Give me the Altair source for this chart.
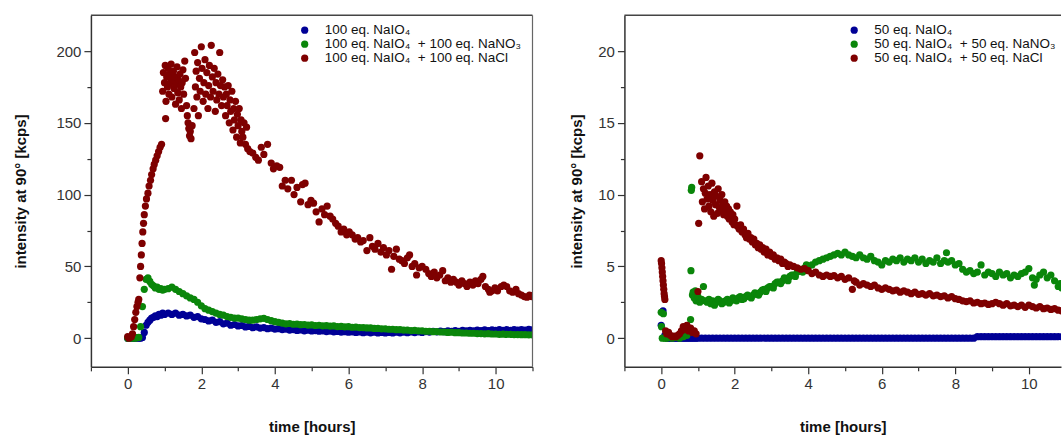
import altair as alt
import pandas as pd

FONT = "Liberation Sans, Arial, sans-serif"
COLORS = ["#000096", "#0a860a", "#7e0000"]

LABELS_LEFT = ["100 eq. NaIO\u2084", "100 eq. NaIO\u2084\u00a0 + 100 eq. NaNO\u2083", "100 eq. NaIO\u2084\u00a0 + 100 eq. NaCl"]
LABELS_RIGHT = ["50 eq. NaIO\u2084", "50 eq. NaIO\u2084\u00a0 + 50 eq. NaNO\u2083", "50 eq. NaIO\u2084\u00a0 + 50 eq. NaCl"]

X_TITLE = "time [hours]"
Y_TITLE = "intensity at 90\u00b0 [kcps]"

# shared time grid (hours) for the dense band series
GRID = [0.0, 0.05, 0.1, 0.15, 0.2, 0.25, 0.3, 0.35, 0.4, 0.45, 0.5, 0.55, 0.6, 0.65, 0.7, 0.75, 0.8, 0.85, 0.9, 0.95, 1.0,
        1.1, 1.2, 1.3, 1.4, 1.5, 1.6, 1.7, 1.8, 1.9, 2.0,
        2.1, 2.2, 2.3, 2.4, 2.5, 2.6, 2.7, 2.8, 2.9, 3.0,
        3.1, 3.2, 3.3, 3.4, 3.5, 3.6, 3.7, 3.8, 3.9, 4.0,
        4.1, 4.2, 4.3, 4.4, 4.5, 4.6, 4.7, 4.8, 4.9, 5.0,
        5.1, 5.2, 5.3, 5.4, 5.5, 5.6, 5.7, 5.8, 5.9, 6.0,
        6.1, 6.2, 6.3, 6.4, 6.5, 6.6, 6.7, 6.8, 6.9, 7.0,
        7.1, 7.2, 7.3, 7.4, 7.5, 7.6, 7.7, 7.8, 7.9, 8.0,
        8.1, 8.2, 8.3, 8.4, 8.5, 8.6, 8.7, 8.8, 8.9, 9.0,
        9.1, 9.2, 9.3, 9.4, 9.5, 9.6, 9.7, 9.8, 9.9, 10.0,
        10.1, 10.2, 10.3, 10.4, 10.5, 10.6, 10.7, 10.8, 10.9, 11.0]

# ---- left panel: 100 eq. ----
BLUE_LEFT = [0, 0, 0.2, 0, 0, 0.1, 0, 0, 0.5, 4, 9, 11, 12.5, 14, 14.5, 15.5, 15, 16.5, 16, 17.5, 16.5,
             17.5, 16.5, 17.5, 16, 16.5, 15.5, 16, 14.5, 15, 13.5,
             13, 12, 12.5, 11, 11.5, 10, 10.5, 9, 9.5, 8.5,
             8.8, 7.8, 8.2, 7.3, 7.8, 7, 7.4, 6.6, 7, 6.3,
             6.6, 6, 6.3, 5.6, 6, 5.4, 5.7, 5.1, 5.5, 5,
             5.3, 4.8, 5.1, 4.6, 4.9, 4.4, 4.7, 4.2, 4.5, 4.1,
             4.4, 4, 4.3, 3.8, 4.2, 3.7, 4.1, 3.6, 4, 3.6,
             4, 3.6, 4.1, 3.7, 4.2, 3.8, 4.3, 3.9, 4.4, 4,
             4.6, 4.2, 4.8, 4.4, 4.9, 4.5, 5.1, 4.7, 5.2, 4.8,
             5.4, 5, 5.5, 5.1, 5.6, 5.2, 5.7, 5.3, 5.8, 5.4,
             5.9, 5.5, 5.9, 5.5, 6, 5.6, 6, 5.6, 6.1, 5.7]

GREEN_LEFT = [0, 0.3, 0, 0.2, 0, 0.3, 0.5, 8, 22, 34, 41, 42, 39.5, 37.5, 36.5, 35, 35.5, 34, 34.5, 33.5, 34,
              34.5, 35.5, 34, 32.5, 31, 29.5, 28, 27, 25, 22.5,
              20.5, 19.5, 18.5, 17.5, 16.5, 16, 15, 14.5, 14, 14,
              13.5, 13, 12.5, 12.5, 13, 13.5, 13.8, 13, 12.2, 11.5,
              11, 10.5, 10, 10.2, 9.7, 9.8, 9.4, 9.5, 9.1, 9.2,
              8.8, 9, 8.6, 8.7, 8.4, 8.5, 8.1, 8.2, 7.9, 8,
              7.6, 7.7, 7.4, 7.4, 7.1, 7.1, 6.8, 6.8, 6.5, 6.5,
              6.2, 6.2, 5.9, 5.9, 5.6, 5.6, 5.3, 5.4, 5.1, 5.1,
              4.8, 4.8, 4.5, 4.6, 4.3, 4.3, 4.0, 4.1, 3.8, 3.8,
              3.6, 3.6, 3.4, 3.4, 3.2, 3.2, 3.0, 3.1, 2.9, 2.9,
              2.7, 2.8, 2.6, 2.6, 2.5, 2.5, 2.4, 2.4, 2.3, 2.3]

RED_LEFT = [
    (0.0, 1), (0.03, 0), (0.06, 0.5), (0.1, 1), (0.13, 3), (0.16, 8), (0.19, 13), (0.22, 18), (0.25, 22), (0.28, 25), (0.3, 27),
    (0.33, 42), (0.35, 50), (0.37, 58), (0.39, 66), (0.41, 74), (0.43, 80), (0.45, 86), (0.48, 92), (0.51, 97), (0.55, 101),
    (0.58, 106), (0.62, 110), (0.65, 114), (0.69, 118), (0.72, 121), (0.76, 124), (0.8, 127), (0.84, 130), (0.88, 133),
    (0.92, 135), (1.03, 153),
    (0.95, 172), (0.97, 185), (1.0, 178), (1.02, 190), (1.04, 165), (1.06, 182), (1.08, 175), (1.1, 188), (1.12, 170),
    (1.14, 184), (1.16, 178), (1.18, 191), (1.2, 168), (1.22, 180), (1.24, 186), (1.26, 174), (1.28, 182), (1.3, 163),
    (1.32, 177), (1.34, 189), (1.36, 171), (1.38, 180), (1.4, 166), (1.42, 184), (1.44, 175), (1.46, 160), (1.48, 178),
    (1.5, 187), (1.52, 170), (1.55, 193), (1.57, 181), (1.6, 162), (1.62, 155), (1.64, 150), (1.66, 146), (1.68, 141),
    (1.7, 144), (1.72, 139), (1.75, 148),
    (1.8, 160), (1.82, 199), (1.84, 175), (1.86, 186), (1.88, 168), (1.9, 192), (1.92, 155), (1.95, 181), (1.97, 172),
    (2.0, 203), (2.02, 188), (2.05, 165), (2.07, 178), (2.1, 194), (2.12, 170), (2.15, 185), (2.18, 160), (2.2, 176),
    (2.22, 190), (2.25, 168), (2.27, 204), (2.3, 182), (2.32, 172), (2.35, 188), (2.38, 158), (2.4, 178), (2.42, 166),
    (2.45, 184), (2.48, 170), (2.5, 199), (2.52, 176), (2.55, 162), (2.58, 180), (2.6, 168), (2.63, 175), (2.66, 155),
    (2.68, 170), (2.7, 162), (2.73, 176), (2.76, 150), (2.78, 166), (2.8, 158), (2.83, 172), (2.86, 145), (2.88, 160),
    (2.9, 152), (2.93, 165), (2.96, 140), (2.98, 156), (3.0, 148), (3.03, 160), (3.06, 136), (3.08, 152), (3.1, 144),
    (3.13, 140), (3.16, 150), (3.2, 135), (3.23, 147), (3.26, 132),
    (3.32, 130), (3.4, 129), (3.48, 126), (3.55, 124), (3.63, 133), (3.7, 128), (3.8, 135), (3.9, 122), (3.96, 118),
    (4.05, 120), (4.13, 119), (4.2, 106), (4.28, 110), (4.35, 104), (4.45, 110), (4.52, 100), (4.6, 105), (4.7, 95),
    (4.75, 107), (4.82, 108), (4.9, 93), (4.98, 96), (5.05, 94), (5.12, 88), (5.2, 81), (5.28, 90), (5.35, 86),
    (5.42, 92), (5.5, 85), (5.57, 83), (5.65, 80), (5.72, 78), (5.8, 74), (5.87, 76), (5.95, 72), (6.02, 74), (6.1, 72),
    (6.18, 69), (6.25, 70), (6.33, 67), (6.4, 68), (6.5, 61), (6.58, 70), (6.65, 64), (6.72, 62), (6.8, 66), (6.88, 60),
    (6.95, 63), (7.03, 58), (7.1, 61), (7.17, 48), (7.23, 57), (7.3, 62), (7.38, 55), (7.45, 54), (7.52, 52), (7.6, 56),
    (7.66, 58), (7.73, 50), (7.8, 52), (7.85, 44), (7.92, 49), (8.0, 50), (8.1, 48), (8.18, 45), (8.25, 43), (8.33, 46),
    (8.4, 42), (8.48, 44), (8.56, 47), (8.63, 40), (8.7, 42), (8.78, 39), (8.85, 41), (8.93, 39), (9.0, 37), (9.08, 40),
    (9.15, 38), (9.22, 36), (9.3, 39), (9.38, 37), (9.45, 40), (9.52, 38), (9.6, 41), (9.65, 43), (9.72, 36), (9.8, 34),
    (9.84, 32), (9.9, 33), (9.98, 35), (10.05, 33), (10.15, 36), (10.22, 37), (10.3, 36), (10.38, 33), (10.46, 32),
    (10.55, 34), (10.62, 31), (10.7, 30), (10.78, 29), (10.85, 28.5), (10.92, 30), (10.98, 29)]

# ---- right panel: 50 eq. ----
BLUE_RIGHT = [0.9, 1.9, 0.2, 0, 0, 0, 0, 0, 0, 0, 0, 0, 0, 0, 0, 0, 0, 0, 0, 0, 0,
              0, 0, 0, 0, 0, 0, 0, 0, 0, 0,
              0, 0, 0, 0, 0, 0, 0, 0, 0, 0,
              0, 0, 0, 0, 0, 0, 0, 0, 0, 0,
              0, 0, 0, 0, 0, 0, 0, 0, 0, 0,
              0, 0, 0, 0, 0, 0, 0, 0, 0, 0,
              0, 0, 0, 0, 0, 0, 0, 0, 0, 0,
              0, 0, 0, 0, 0, 0, 0, 0, 0, 0,
              0, 0, 0, 0, 0, 0.1, 0.1, 0.1, 0.1, 0.1,
              0.1, 0.1, 0.1, 0.1, 0.1, 0.1, 0.1, 0.1, 0.1, 0.1,
              0.1, 0.1, 0.1, 0.1, 0.1, 0.1, 0.1, 0.1, 0.1, 0.1]

GREEN_RIGHT = [
    (0.0, 1.8), (0.01, 0.8), (0.03, 0.0), (0.06, 1.7), (0.1, 0.0), (0.15, 0.0), (0.2, 0.05), (0.3, 0.0), (0.4, 0.05),
    (0.5, 0.0), (0.6, 0.1), (0.7, 0.2), (0.75, 0.5), (0.8, 1.3), (0.81, 4.7), (0.82, 10.3), (0.83, 10.5), (0.85, 3.0),
    (0.87, 3.2), (0.9, 2.8), (0.93, 3.3), (0.95, 2.6), (1.0, 2.9), (1.05, 2.5), (1.1, 2.7), (1.15, 3.6), (1.2, 2.6),
    (1.25, 2.5), (1.3, 2.7), (1.35, 2.4), (1.4, 2.6), (1.45, 2.3), (1.5, 2.5), (1.55, 2.7), (1.6, 2.6), (1.65, 2.4),
    (1.7, 2.5), (1.75, 2.6), (1.8, 2.7), (1.85, 2.45), (1.9, 2.6), (1.95, 2.8), (2.0, 2.7), (2.05, 2.6), (2.1, 2.8),
    (2.15, 2.9), (2.2, 2.7), (2.25, 2.75), (2.3, 2.9), (2.35, 3.0), (2.4, 2.9), (2.45, 2.8), (2.5, 3.0), (2.55, 3.15),
    (2.6, 3.1), (2.65, 3.0), (2.7, 3.2), (2.75, 3.35), (2.8, 3.4), (2.85, 3.25), (2.9, 3.5), (2.95, 3.6), (3.0, 3.6),
    (3.05, 3.5), (3.1, 3.8), (3.15, 3.9), (3.2, 3.9), (3.25, 3.8), (3.3, 4.0), (3.35, 4.2), (3.4, 4.15), (3.45, 4.0),
    (3.5, 4.3), (3.55, 4.4), (3.6, 4.4), (3.65, 4.3), (3.7, 4.6), (3.75, 4.7), (3.8, 4.7), (3.85, 4.6), (3.9, 4.9),
    (3.95, 5.1), (4.0, 5.0), (4.1, 5.1), (4.2, 5.3), (4.3, 5.4), (4.4, 5.5), (4.5, 5.6), (4.6, 5.7), (4.7, 5.8),
    (4.8, 5.9), (4.9, 5.8), (5.0, 6.0), (5.1, 5.8), (5.2, 5.7), (5.3, 5.6), (5.4, 5.8), (5.5, 5.6), (5.6, 5.5),
    (5.7, 5.7), (5.8, 5.4), (5.9, 5.3), (6.0, 5.1), (6.1, 5.4), (6.2, 5.3), (6.3, 5.5), (6.4, 5.4), (6.5, 5.6),
    (6.6, 5.3), (6.7, 5.5), (6.8, 5.4), (6.9, 5.6), (7.0, 5.3), (7.1, 5.5), (7.2, 5.2), (7.3, 5.4), (7.4, 5.3),
    (7.5, 5.6), (7.6, 5.2), (7.7, 5.4), (7.76, 5.95), (7.8, 5.3), (7.9, 5.4), (8.0, 5.1), (8.1, 5.2), (8.2, 4.8),
    (8.3, 4.6), (8.4, 4.7), (8.5, 4.5), (8.6, 4.6), (8.7, 5.1), (8.8, 4.4), (8.9, 4.6), (9.0, 4.5), (9.1, 4.3),
    (9.2, 4.6), (9.3, 4.4), (9.4, 4.5), (9.5, 4.2), (9.6, 4.4), (9.7, 4.3), (9.8, 4.5), (9.9, 4.6), (10.0, 4.85),
    (10.1, 4.2), (10.15, 3.7), (10.2, 4.1), (10.3, 4.4), (10.4, 4.6), (10.5, 4.2), (10.6, 4.4), (10.7, 4.0),
    (10.8, 3.6), (10.85, 3.8), (10.9, 3.5)]

RED_RIGHT = [
    (0.0, 5.4), (0.01, 5.2), (0.02, 4.9), (0.03, 4.6), (0.04, 4.3), (0.05, 4.0), (0.06, 3.7), (0.07, 3.4), (0.08, 3.1),
    (0.09, 2.9), (0.1, 2.7), (0.12, 0.5), (0.15, 0.3), (0.2, 0.4), (0.25, 0.2), (0.3, 0.1), (0.35, 0.15), (0.4, 0.1),
    (0.45, 0.2), (0.5, 0.3), (0.55, 0.5), (0.6, 0.8), (0.65, 0.6), (0.7, 0.9), (0.75, 0.5), (0.8, 0.7), (0.85, 0.4),
    (0.9, 0.5), (0.95, 0.3), (1.0, 3.25), (1.02, 8.0), (1.05, 12.7),
    (1.1, 10.9), (1.12, 9.5), (1.15, 10.4), (1.18, 9.0), (1.2, 10.1), (1.22, 11.2), (1.25, 9.7), (1.28, 10.6),
    (1.3, 9.2), (1.33, 10.0), (1.35, 8.8), (1.38, 10.8), (1.4, 9.6), (1.43, 8.5), (1.45, 10.2), (1.48, 9.3), (1.5, 9.9),
    (1.53, 8.7), (1.55, 10.4), (1.58, 9.1), (1.6, 9.6), (1.63, 8.9), (1.65, 10.0), (1.68, 9.3), (1.7, 8.6), (1.73, 9.5),
    (1.75, 8.9), (1.78, 9.2), (1.8, 8.5), (1.83, 9.0), (1.85, 8.3), (1.88, 8.8), (1.9, 8.4), (1.93, 8.1), (1.95, 8.6),
    (1.98, 7.9), (2.0, 8.3), (2.03, 7.9), (2.06, 9.2),
    (2.08, 7.8), (2.12, 7.6), (2.16, 7.9), (2.2, 7.4), (2.24, 7.6), (2.28, 7.2), (2.32, 7.0), (2.36, 7.3), (2.4, 6.9),
    (2.44, 7.0), (2.48, 6.7), (2.52, 6.9), (2.56, 6.5), (2.6, 6.6), (2.64, 6.3), (2.68, 6.5), (2.72, 6.2), (2.76, 6.3),
    (2.8, 6.0), (2.85, 6.2), (2.9, 5.8), (2.95, 6.0), (3.0, 5.7), (3.05, 5.8), (3.1, 5.5), (3.15, 5.6), (3.2, 5.4),
    (3.25, 5.5), (3.3, 5.2), (3.35, 5.3), (3.4, 5.2), (3.45, 5.0), (3.5, 5.1), (3.6, 5.0), (3.7, 4.9), (3.8, 4.8),
    (3.9, 4.85), (4.0, 4.7), (4.1, 4.5), (4.2, 4.6), (4.3, 4.4), (4.4, 4.3), (4.5, 4.4), (4.6, 4.3), (4.7, 4.35),
    (4.8, 4.2), (4.9, 4.3), (5.0, 4.1), (5.1, 4.2), (5.2, 3.4), (5.25, 4.0), (5.3, 3.9), (5.4, 3.7), (5.5, 3.8),
    (5.6, 3.7), (5.7, 3.6), (5.8, 3.7), (5.9, 3.5), (6.0, 3.4), (6.1, 3.5), (6.2, 3.4), (6.3, 3.3), (6.4, 3.35),
    (6.5, 3.2), (6.6, 3.3), (6.7, 3.2), (6.8, 3.1), (6.9, 3.2), (7.0, 3.05), (7.1, 3.1), (7.2, 3.0), (7.3, 3.1),
    (7.4, 2.95), (7.5, 3.0), (7.6, 2.9), (7.7, 2.95), (7.8, 2.8), (7.9, 2.9), (8.0, 2.75), (8.1, 2.7), (8.2, 2.6),
    (8.3, 2.55), (8.4, 2.6), (8.5, 2.45), (8.6, 2.5), (8.7, 2.4), (8.8, 2.45), (8.9, 2.35), (9.0, 2.4), (9.1, 2.5),
    (9.2, 2.4), (9.3, 2.3), (9.4, 2.4), (9.5, 2.25), (9.6, 2.3), (9.7, 2.2), (9.8, 2.3), (9.9, 2.15), (10.0, 2.3),
    (10.1, 2.2), (10.2, 2.1), (10.3, 2.2), (10.4, 2.05), (10.5, 2.1), (10.6, 2.0), (10.7, 2.05), (10.8, 1.95),
    (10.9, 1.9)]

X_TICKS_LEFT = [-1, 0, 1, 2, 3, 4, 5, 6, 7, 8, 9, 10, 11]
X_TICKS_RIGHT = [-1, 0, 1, 2, 3, 4, 5, 6, 7, 8, 9, 10]
Y_TICKS_LEFT = [0, 25, 50, 75, 100, 125, 150, 175, 200]
Y_TICKS_RIGHT = [0, 2.5, 5, 7.5, 10, 12.5, 15, 17.5, 20]


def build_df(parts):
    rows = []
    for k, (ts, vs) in enumerate(parts):
        for t, v in zip(ts, vs):
            rows.append({"t": t, "v": v, "s": k})
    return pd.DataFrame(rows)


def split(pairs):
    return [p[0] for p in pairs], [p[1] for p in pairs]


left_df = build_df([(GRID, BLUE_LEFT), (GRID, GREEN_LEFT), split(RED_LEFT)])
right_df = build_df([(GRID, BLUE_RIGHT), split(GREEN_RIGHT), split(RED_RIGHT)])

DOT = 52


def panel(df, labels, W, H, xdom, ydom, xticks, yticks, ymajor, title_x, dot_x, txt_x, leg_y, right_frame):
    x_axis = alt.Axis(
        values=xticks, title=X_TITLE, grid=False,
        labelExpr="datum.value % 2 === 0 ? datum.label : ''",
        tickSize={"condition": {"test": "datum.value % 2 === 0", "value": 7}, "value": 4},
        titleY=53,
    )
    y_axis = alt.Axis(
        values=yticks, title=Y_TITLE, grid=False,
        labelExpr=f"datum.value % {ymajor} === 0 ? datum.label : ''",
        tickSize={"condition": {"test": f"datum.value % {ymajor} === 0", "value": 7}, "value": 4},
        titleX=title_x,
    )
    pts = alt.Chart(df).mark_circle(size=DOT, opacity=1, clip=True).encode(
        x=alt.X("t:Q", scale=alt.Scale(domain=xdom, nice=False, zero=False), axis=x_axis),
        y=alt.Y("v:Q", scale=alt.Scale(domain=ydom, nice=False, zero=False), axis=y_axis),
        color=alt.Color("s:N", scale=alt.Scale(domain=[0, 1, 2], range=COLORS), legend=None),
    )
    one = pd.DataFrame({"k": [0]})
    layers = [pts]
    layers.append(alt.Chart(one).mark_rule(color="#444444", strokeWidth=1.6).encode(
        x=alt.value(0), x2=alt.value(W), y=alt.value(0)))
    if right_frame:
        layers.append(alt.Chart(one).mark_rule(color="#666666", strokeWidth=1.2).encode(
            x=alt.value(W), y=alt.value(0), y2=alt.value(H)))
    for k, lab in enumerate(labels):
        layers.append(alt.Chart(one).mark_circle(size=DOT, opacity=1, color=COLORS[k]).encode(
            x=alt.value(dot_x), y=alt.value(leg_y[k])))
        layers.append(alt.Chart(one).mark_text(
            text=lab, align="left", baseline="middle", font=FONT, fontSize=13.5, color="#111111", clip=True
        ).encode(x=alt.value(txt_x), y=alt.value(leg_y[k])))
    return alt.layer(*layers).properties(width=W, height=H)


LEG_Y = [15, 29, 43]
left = panel(left_df, LABELS_LEFT, 442, 352, [-1, 11], [-20, 225], X_TICKS_LEFT, Y_TICKS_LEFT, 50,
             -62, 214, 234, LEG_Y, True)
right = panel(right_df, LABELS_RIGHT, 437, 352, [-1, 10.875], [-2, 22.5], X_TICKS_RIGHT, Y_TICKS_RIGHT, 5,
              -40, 230, 250, LEG_Y, False)

chart = alt.hconcat(left, right, spacing=36).properties(
    padding={"left": 14, "top": 14, "right": 0, "bottom": 0},
    background="white",
).configure_view(stroke=None).configure_axis(
    labelFont=FONT, labelFontSize=15, labelColor="#333333", labelPadding=3,
    titleFont=FONT, titleFontSize=15, titleFontWeight="bold", titleColor="#111111",
    domainColor="#333333", domainWidth=1.5, tickColor="#333333", tickWidth=1.2,
)

chart.save("out.html", embed_options={"renderer": "svg", "actions": False})
